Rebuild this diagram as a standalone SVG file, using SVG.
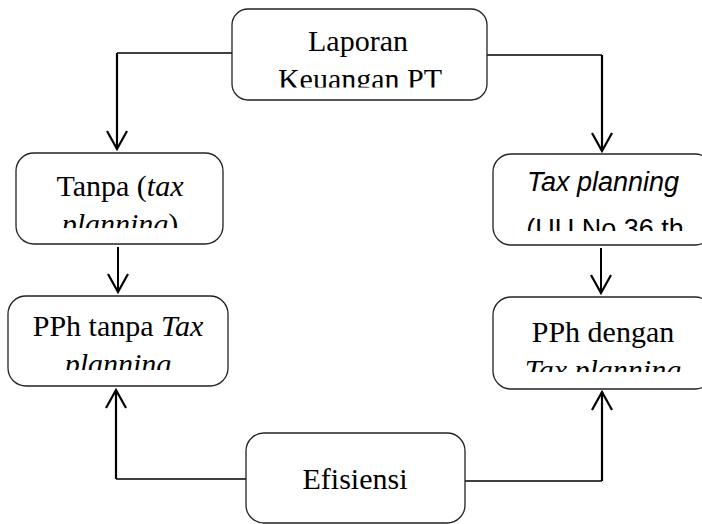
<svg xmlns="http://www.w3.org/2000/svg" width="702" height="524" viewBox="0 0 702 524">
<style>
.box{fill:#fff;stroke:#222;stroke-width:1.3}
.t{font-family:"Liberation Serif","Times New Roman",serif;font-size:30px;fill:#000;text-anchor:middle}
.s{font-family:"Liberation Sans",Arial,sans-serif;font-size:27px;fill:#000;text-anchor:middle}
.i{font-style:italic}
.h{fill:none;stroke:#000;stroke-width:1.3}
.v{fill:none;stroke:#000;stroke-width:2.2;marker-end:url(#ah)}
</style>
<defs>
<marker id="ah" markerUnits="userSpaceOnUse" markerWidth="40" markerHeight="40" refX="0" refY="0" orient="auto" overflow="visible">
<path d="M-18,-10 L0,0 L-18,10" fill="none" stroke="#000" stroke-width="2.2"/>
</marker>
<clipPath id="c1"><rect x="232" y="9" width="255" height="78.5"/></clipPath>
<clipPath id="c2"><rect x="16" y="153" width="207" height="75"/></clipPath>
<clipPath id="c3"><rect x="493" y="154" width="220" height="77"/></clipPath>
<clipPath id="c4"><rect x="8" y="296" width="220" height="74"/></clipPath>
<clipPath id="c5"><rect x="493" y="297" width="220" height="75"/></clipPath>
</defs>
<g id="connectors">
<path class="h" d="M232,53 H117"/>
<path class="v" d="M117,53 V149"/>
<path class="h" d="M487,55 H602"/>
<path class="v" d="M602,55 V151"/>
<path class="v" d="M118,247 V292" style="stroke-width:2"/>
<path class="v" d="M601,248 V293" style="stroke-width:2"/>
<path class="h" d="M246,479 H116"/>
<path class="v" d="M116,479 V390"/>
<path class="h" d="M465,481 H602"/>
<path class="v" d="M602,481 V392"/>
</g>
<g id="laporan">
<rect class="box" x="232" y="9" width="255" height="91" rx="16"/>
<g clip-path="url(#c1)">
<text class="t" x="358" y="51">Laporan</text>
<text class="t" x="360" y="89">Keuangan PT</text>
</g>
</g>
<g id="tanpa">
<rect class="box" x="16" y="153" width="207" height="91" rx="18"/>
<g clip-path="url(#c2)">
<text class="t" x="120" y="196">Tanpa (<tspan class="i">tax</tspan></text>
<text class="t" x="120" y="234"><tspan class="i">planning</tspan>)</text>
</g>
</g>
<g id="taxplanning">
<rect class="box" x="493" y="154" width="220" height="91" rx="18"/>
<g clip-path="url(#c3)">
<text class="s i" x="603" y="191">Tax planning</text>
<text class="s" x="605" y="238">(UU No 36 th</text>
</g>
</g>
<g id="pphtanpa">
<rect class="box" x="8" y="296" width="220" height="90" rx="18"/>
<g clip-path="url(#c4)">
<text class="t" x="118" y="336">PPh tanpa <tspan class="i">Tax</tspan></text>
<text class="t i" x="118" y="374">planning</text>
</g>
</g>
<g id="pphdengan">
<rect class="box" x="493" y="297" width="220" height="92" rx="18"/>
<g clip-path="url(#c5)">
<text class="t" x="603" y="342">PPh dengan</text>
<text class="t i" x="603" y="380">Tax planning</text>
</g>
</g>
<g id="efisiensi">
<rect class="box" x="246" y="433" width="219" height="90" rx="18"/>
<text class="t" x="355" y="489">Efisiensi</text>
</g>
</svg>
